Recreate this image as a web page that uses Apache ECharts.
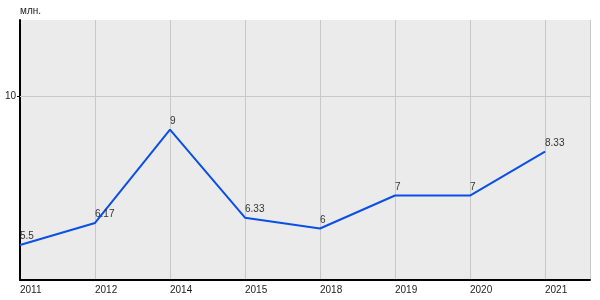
<!DOCTYPE html>
<html><head><meta charset="utf-8">
<script src="https://cdn.jsdelivr.net/npm/echarts@6/dist/echarts.min.js"></script>
<style>html,body{margin:0;padding:0;background:#fff}#c{width:600px;height:300px}</style>
</head><body><div id="c"></div>
<script>
const categories = ['2011','2012','2014','2015','2018','2019','2020','2021'];
const values = [5.5, 6.17, 9, 6.33, 6, 7, 7, 8.33];
const yTicks = [10];
const unitName = 'млн.';

const chart = echarts.init(document.getElementById('c'));
chart.setOption({
  animation: false,
  grid: {left: 20, right: 10, top: 20, bottom: 20, show: true, backgroundColor: '#ebebeb', borderWidth: 0,
    containLabel: false, outerBoundsMode: 'none'},
  xAxis: {
    type: 'value', min: 0, max: 7.6, interval: 1,
    axisLine: {show: true, onZero: false, lineStyle: {color: '#000', width: 2}},
    axisTick: {show: false},
    axisLabel: {color: '#222', fontSize: 10, fontFamily: 'Liberation Sans, Arial', align: 'left', margin: 5,
      formatter: v => categories[v] !== undefined ? categories[v] : ''},
    splitLine: {show: true, lineStyle: {color: '#c8c8c8', width: 1}}
  },
  yAxis: {
    type: 'value', min: 4.44, max: 12.32,
    name: unitName, nameLocation: 'end', nameGap: 4,
    nameTextStyle: {color: '#222', fontSize: 10, fontFamily: 'Liberation Sans, Arial', align: 'left'},
    axisLine: {show: true, lineStyle: {color: '#000', width: 2}},
    axisTick: {show: true, length: 3, lineStyle: {color: '#000'}, customValues: yTicks},
    axisLabel: {color: '#222', fontSize: 10, fontFamily: 'Liberation Sans, Arial', margin: 4, customValues: yTicks},
    splitLine: {show: false}
  },
  series: [{
    type: 'line',
    data: values.map((v, i) => [i, v]),
    symbol: 'circle', symbolSize: 1,
    itemStyle: {color: '#0a4fe6'},
    lineStyle: {color: '#0a4fe6', width: 2},
    label: {show: true, position: 'top', align: 'left', distance: 3, color: '#333', fontSize: 10,
      fontFamily: 'Liberation Sans, Arial', formatter: p => String(values[p.dataIndex])},
    markLine: {silent: true, symbol: 'none', label: {show: false},
      lineStyle: {color: '#c8c8c8', width: 1, type: 'solid'},
      data: yTicks.map(t => ({yAxis: t}))},
    z: 3
  }]
});
</script></body></html>
